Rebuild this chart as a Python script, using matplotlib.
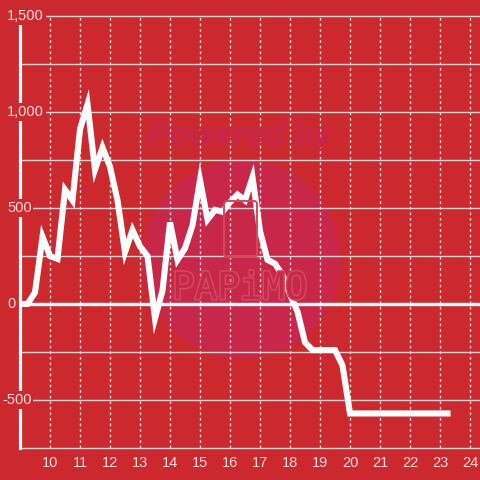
import matplotlib
matplotlib.use("Agg")
import matplotlib.pyplot as plt
from matplotlib.patches import Circle, FancyBboxPatch
import matplotlib.patheffects as pe

# ---- data ----
x_hours = [9.0, 9.25, 9.5, 9.75, 10.0, 10.25, 10.5, 10.75, 11.0, 11.25, 11.5, 11.75,
           12.0, 12.25, 12.5, 12.75, 13.0, 13.25, 13.5, 13.75, 14.0, 14.25, 14.5, 14.75,
           15.0, 15.25, 15.5, 15.75, 16.0, 16.25, 16.5, 16.75, 17.0, 17.25, 17.5, 17.75,
           18.0, 18.25, 18.5, 18.75, 19.0, 19.25, 19.5, 19.75, 20.0, 20.25, 20.5, 20.75,
           21.0, 21.25, 21.5, 21.75, 22.0, 22.25, 22.5, 22.75, 23.0, 23.25]
values = [0, 0, 60, 350, 250, 235, 595, 540, 910, 1040, 700, 815,
          715, 540, 270, 385, 300, 250, -75, 70, 425, 230, 290, 410,
          645, 440, 490, 480, 530, 570, 540, 660, 380, 230, 210, 150,
          50, -40, -200, -240, -240, -240, -240, -320, -570, -570, -570, -570,
          -570, -570, -570, -570, -570, -570, -570, -570, -570, -570]
x_ticks = list(range(10, 25))
y_ticks = [-500, 0, 500, 1000, 1500]
y_tick_labels = ["-500", "0", "500", "1,000", "1,500"]

BG = "#cc292e"
CIRCLE = "#c92749"
MARK = "#d24a5c"
LABEL = "#f3dcdc"
GRID = "#d9d2d2"

plt.rcParams['font.family'] = ['Liberation Sans', 'DejaVu Sans']

fig = plt.figure(figsize=(4.8, 4.8), dpi=100, facecolor=BG)
W = H = 480.0
ax = fig.add_axes([20 / W, (480 - 448) / H, 460 / W, (448 - 16) / H], facecolor=BG)
ax.set_xlim(9, 24 + 1 / 3)
ax.set_ylim(-750, 1500)

# watermark
circ = Circle((242 / W, 1 - 259 / H), 99 / W, transform=fig.transFigure,
              facecolor=CIRCLE, edgecolor="none", zorder=0.5)
ax.add_artist(circ)
circ.set_clip_on(False)
fig.text(148 / W, 1 - 136 / H, "Powered by", ha="left", va="center", fontsize=23.5,
         fontweight="bold", style="italic", color="#c7264b", zorder=0.6)
fig.text(240 / W, 1 - 289 / H, "PAPiMO", ha="center", va="center", fontsize=27,
         color=CIRCLE, zorder=0.6, family=["DejaVu Sans Mono", "DejaVu Sans"],
         path_effects=[pe.Stroke(linewidth=2.2, foreground=MARK), pe.Normal()])
phone = FancyBboxPatch((224 / W, 1 - 257 / H), 33 / W, 56 / H,
                       boxstyle="round,pad=0,rounding_size=0.006",
                       transform=fig.transFigure, facecolor="none",
                       edgecolor=MARK, linewidth=1.4, zorder=0.6)
fig.patches.append(phone)

# grids
for yv in range(-750, 1501, 250):
    ax.axhline(yv, color=GRID, linewidth=1.0, zorder=1, clip_on=False)
for xv in x_ticks:
    ax.axvline(xv, color=GRID, linewidth=1.0, linestyle=(0, (2, 2)), zorder=1)

# zero line
ax.axhline(0, color="white", linewidth=2.4, zorder=2)

# data line
ax.plot(x_hours, values, color="white", linewidth=4.4, solid_capstyle="projecting",
        solid_joinstyle="miter", zorder=4)

for s in ["top", "right", "bottom"]:
    ax.spines[s].set_visible(False)
ax.spines["left"].set_color("white")
ax.spines["left"].set_linewidth(2.3)
ax.spines["left"].set_zorder(3)

ax.set_xticks(x_ticks)
ax.set_xticklabels([str(t) for t in x_ticks])
ax.tick_params(axis="x", length=0, pad=6, labelsize=10.5, labelcolor=LABEL)
ax.set_yticks([])

ytr = ax.get_yaxis_transform()
for yv, lab in zip(y_ticks, y_tick_labels):
    xoff = 2 if lab.startswith("-") else 7
    ax.text((xoff - 20) / 460, yv, lab, transform=ytr, ha="left", va="center",
            fontsize=10.5, color=LABEL, zorder=5, clip_on=False,
            bbox=dict(boxstyle="square,pad=0.12", facecolor=BG, edgecolor="none"))

fig.savefig("out.png", dpi=100, facecolor=BG)
